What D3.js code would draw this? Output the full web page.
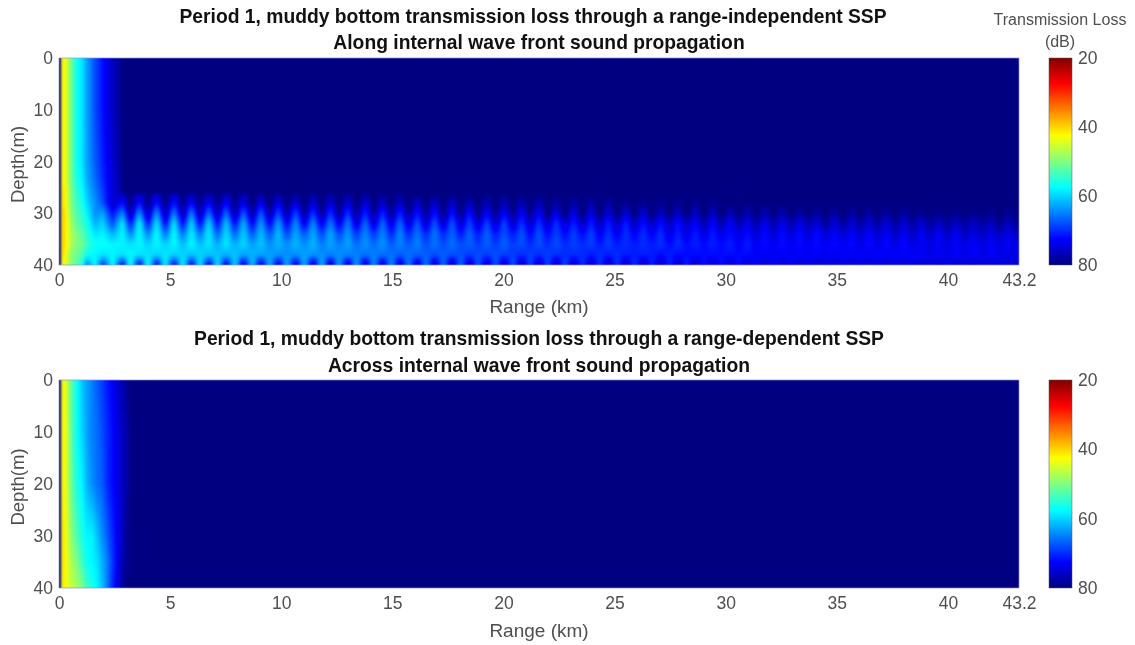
<!DOCTYPE html>
<html><head><meta charset="utf-8">
<script src="https://cdn.jsdelivr.net/npm/d3@7"></script>
<style>
html,body{margin:0;padding:0;background:#fff;overflow:hidden}
#root{position:relative;width:1135px;height:645px;filter:blur(0.35px)}
canvas{position:absolute;display:block}
svg{position:absolute;left:0;top:0}
text{font-family:"Liberation Sans",Arial,sans-serif}
</style></head><body><div id="root"></div>
<script>
// ---------- chart text ----------
const topTitles = ["Period 1, muddy bottom transmission loss through a range-independent SSP","Along internal wave front sound propagation"];
const bottomTitles = ["Period 1, muddy bottom transmission loss through a range-dependent SSP","Across internal wave front sound propagation"];
const xTickValues = [0,5,10,15,20,25,30,35,40,43.2];
const yTickValues = [0,10,20,30,40];
const cbTickValues = [20,40,60,80];
const BACKGROUND_LOSS = 80;

// ---------- top panel: near-source field (dB), rows = depths, columns = ranges ----------
const topNearRanges = [0,.08,.12,.16,.27,.41,.59,.81,1.04,1.26,1.62,1.98,2.41,2.83];
const topNearDepths = [0,10,20,24,26,28,30,32,34,36,38,40];
const topNearLoss = [
 [80,80,37,41,43,47,52,57,59,63,68,72,76,79],
 [80,80,36,41,43,47,52,57,59,63,68,72,76,79],
 [80,80,36,41,43,47,52,57,59,63,67,71,75,79],
 [80,80,36,41,43,47,52,56,58,62,66,70,75,78],
 [80,80,36,40,42,46,51,55,57,61,65,69,75,77],
 [80,80,36,40,42,46,51,54,56,60,64,68,76,72],
 [80,80,35,39,41,45,50,53,55,58,64,63,72,65],
 [80,80,35,39,41,44,49,52,54,56,62,60,68,59],
 [80,80,35,39,41,44,48,50,52,55,59,58,62,58],
 [80,80,35,39,41,44,48,50,51,54,57,57,58,58],
 [80,80,36,40,42,46,50,51,53,57,58,59,58,59],
 [80,80,37,41,44,47,50,52,56,65,57,70,57,72]
];

// ---------- top panel: bottom-trapped ripple band, one row per half-cycle ----------
const rippleStart = 2.83, rippleStep = 0.391;
const rippleDepths = [26,28,30,32,34,36,38,40];
const rippleLoss = [
 [80,79,76,70,64,59,58,58],[77,72,65,59,58,58,59,72],[80,79,76,70,64,60,59,58],[77,72,65,60,58,58,60,72],
 [80,79,76,71,65,60,59,59],[77,72,66,60,58,58,60,72],[80,79,76,71,65,61,60,59],[78,73,66,61,59,58,61,72],
 [80,79,76,71,65,61,60,60],[78,73,67,61,59,59,61,73],[80,79,76,71,66,62,61,60],[78,73,67,62,60,59,62,73],
 [80,79,77,71,66,62,61,61],[78,74,68,63,61,60,63,74],[80,80,77,72,67,63,62,62],[79,74,68,64,62,61,63,74],
 [80,80,77,72,67,64,63,63],[79,74,69,64,62,62,64,74],[80,80,77,72,68,64,64,63],[79,75,69,65,63,62,64,74],
 [80,80,78,73,67,64,63,63],[79,75,70,65,63,62,64,75],[80,80,78,73,68,65,64,63],[79,75,70,66,63,63,65,75],
 [80,80,78,73,68,65,64,64],[79,75,70,66,64,63,65,75],[80,80,78,74,69,66,65,64],[79,75,71,67,65,64,66,75],
 [80,80,78,74,69,66,65,65],[79,76,71,67,65,64,66,75],[80,80,78,74,70,67,66,65],[79,76,71,67,65,65,67,75],
 [80,80,78,74,70,67,66,66],[80,76,72,68,66,65,67,75],[80,80,78,75,70,68,67,66],[80,76,72,68,66,66,68,75],
 [80,80,79,75,70,68,67,67],[80,76,72,68,67,66,68,76],[80,80,79,75,71,68,68,67],[80,77,72,69,67,67,69,76],
 [80,80,79,75,71,69,68,68],[80,77,73,69,67,67,69,76],[80,80,79,75,71,69,68,68],[80,77,73,69,68,67,69,76],
 [80,80,79,75,71,69,69,68],[80,77,73,70,68,68,70,76],[80,80,79,75,72,70,69,69],[80,77,73,70,68,68,70,76],
 [80,80,80,75,72,70,69,69],[80,78,74,70,69,68,70,76],[80,80,80,75,72,70,70,69],[80,78,74,71,69,69,70,76],
 [80,80,80,76,72,70,70,70],[80,78,74,71,69,69,71,76],[80,80,80,76,73,71,70,70],[80,78,75,71,70,69,71,76],
 [80,80,80,76,73,71,70,70],[80,79,75,71,70,70,71,76],[80,80,80,76,73,71,71,70],[80,79,75,72,70,70,71,76],
 [80,80,80,76,73,71,71,71],[80,79,76,72,70,70,72,76],[80,80,80,76,74,72,71,71],[80,79,76,72,71,70,72,76],
 [80,80,80,76,74,72,72,71],[80,79,76,73,71,71,72,76],[80,80,80,77,74,72,72,72],[80,79,76,73,71,71,72,75],
 [80,80,80,77,74,72,72,72],[80,80,77,73,72,71,72,75],[80,80,80,77,74,73,72,72],[80,80,77,74,72,71,72,75],
 [80,80,80,77,75,73,73,73],[80,80,77,74,72,72,73,75],[80,80,80,77,75,73,73,73],[80,80,77,74,72,72,73,75],
 [80,80,80,77,75,73,73,73],[80,80,78,74,72,72,73,75],[80,80,80,77,75,73,73,74],[80,80,78,75,72,72,73,75],
 [80,80,80,78,75,73,73,74],[80,80,78,75,73,72,73,75],[80,80,80,78,75,73,73,74],[80,80,78,75,73,72,73,75],
 [80,80,80,78,75,74,73,74],[80,80,78,75,73,72,73,75],[80,80,80,78,75,74,73,74],[80,80,78,75,73,72,73,75],
 [80,80,80,78,76,74,73,74],[80,80,78,75,73,72,73,75],[80,80,80,78,76,74,73,74],[80,80,79,75,73,73,73,75],
 [80,80,80,78,76,74,74,74],[80,80,79,76,73,73,73,75],[80,80,80,78,76,74,74,74],[80,80,79,76,73,73,73,75],
 [80,80,80,78,76,74,74,74],[80,80,79,76,74,73,73,75],[80,80,80,78,76,74,74,74],[80,80,79,76,74,73,73,75],
 [80,80,80,79,76,74,74,74],[80,80,79,76,74,73,74,75],[80,80,80,79,76,74,74,74],[80,80,79,76,74,73,74,75]
];

// ---------- bottom panel (dB) ----------
const botRanges = [0,.08,.12,.16,.27,.41,.59,.81,1.04,1.26,1.49,1.71,1.94,2.16,2.39,2.61,2.84,3.06,3.29];
const botDepths = [0,10,20,30,35,40];
const botLoss = [
 [80,80,38,41,43,48,53,57,61,63,65,67,69,71,73,75,77,79,80],
 [80,80,37,41,43,47,53,57,60,63,65,66,68,70,72,74,76,78,80],
 [80,80,37,41,43,47,52,56,58,62,64,66,67,70,72,74,76,78,80],
 [80,80,37,40,42,46,50,53,56,58,58,61,64,67,70,73,76,79,80],
 [80,80,37,40,42,45,48,50,54,57,58,59,62,65,69,73,77,79,80],
 [80,80,38,41,42,45,46,48,50,54,56,58,61,65,70,74,78,80,80]
];

// ---------- layout ----------
const W = 1135, H = 645;
const plotX = [59,1019];
const panels = [
 {y:[58,265], titles:topTitles, titleY:[23,48.5], titleX:[533,539], rangeY:313},
 {y:[380,588], titles:bottomTitles, titleY:[344.5,371.5], titleX:[539,539], rangeY:637}
];
const cbX = [1049,1072];

// ---------- jet colour scale ----------
const jetDomain = [80,72.5,57.5,42.5,27.5,20];
const jetColors = ["#000080","#0000ff","#00ffff","#ffff00","#ff0000","#800000"];
const jet = d3.scaleLinear().domain(jetDomain).range(jetColors).clamp(true);

// ---------- fields ----------
const smooth = t => t*t*(3-2*t);
const bilinear = (xs, ys, M, xv, yv, easeX) => {
  const i = Math.min(xs.length-2, Math.max(0, d3.bisectRight(xs,xv)-1));
  const j = Math.min(ys.length-2, Math.max(0, d3.bisectRight(ys,yv)-1));
  let tx = Math.max(0, Math.min(1,(xv-xs[i])/(xs[i+1]-xs[i])));
  if (easeX) tx = smooth(tx);
  const ty = Math.max(0, Math.min(1,(yv-ys[j])/(ys[j+1]-ys[j])));
  const a = M[j][i]*(1-tx)+M[j][i+1]*tx, b = M[j+1][i]*(1-tx)+M[j+1][i+1]*tx;
  return a*(1-ty)+b*ty;
};
const rippleRanges = [rippleStart].concat(rippleLoss.map((_,n)=>rippleStart+(n+1)*rippleStep));
const rippleFirstColumn = rippleDepths.map(d=>topNearLoss[topNearDepths.indexOf(d)][topNearRanges.length-1]);
const rippleGrid = rippleDepths.map((_,j)=>[rippleFirstColumn[j]].concat(rippleLoss.map(r=>r[j])));

const topField = (r,d) => {
  if (r <= rippleStart) return bilinear(topNearRanges, topNearDepths, topNearLoss, r, d, false);
  if (d < rippleDepths[0]) return BACKGROUND_LOSS;
  return bilinear(rippleRanges, rippleDepths, rippleGrid, r, d, true);
};
const botField = (r,d) => r>=botRanges[botRanges.length-1] ? BACKGROUND_LOSS : bilinear(botRanges, botDepths, botLoss, r, d, false);
panels[0].field = topField;
panels[1].field = botField;

// ---------- draw ----------
const root = d3.select("#root");
panels.forEach(p=>{
  const x = d3.scaleLinear().domain([0,43.2]).range(plotX);
  const y = d3.scaleLinear().domain([0,40]).range(p.y);
  const w = plotX[1]-plotX[0], h = p.y[1]-p.y[0];
  const cv = root.append("canvas").attr("width",w).attr("height",h)
    .style("left",plotX[0]+"px").style("top",p.y[0]+"px");
  const ctx = cv.node().getContext("2d");
  const img = ctx.createImageData(w,h);
  for(let py=0;py<h;py++){
    const d = y.invert(p.y[0]+py+.5);
    for(let px=0;px<w;px++){
      const r = x.invert(plotX[0]+px+.5);
      const c = d3.rgb(jet(p.field(r,d)));
      const k=(py*w+px)*4;
      img.data[k]=c.r;img.data[k+1]=c.g;img.data[k+2]=c.b;img.data[k+3]=255;
    }
  }
  ctx.putImageData(img,0,0);
  ctx.filter = "blur(0.8px)";
  ctx.drawImage(cv.node(),0,0);
  ctx.filter = "none";
  p.x=x;p.yS=y;
});

const svg = root.append("svg").attr("width",W).attr("height",H);
const GREY = "#4f4f4f";
const FF = '"Liberation Sans",Arial,sans-serif';
const grad = svg.append("defs").append("linearGradient").attr("id","jetbar")
  .attr("x1",0).attr("y1",0).attr("x2",0).attr("y2",1);
grad.selectAll("stop").data(d3.range(20,80.01,0.5)).join("stop")
  .attr("offset",d=>(d-20)/60).attr("stop-color",d=>jet(d));

panels.forEach((p,pi)=>{
  const g = svg.append("g");
  g.append("rect").attr("x",plotX[0]).attr("y",p.y[0]).attr("width",plotX[1]-plotX[0]).attr("height",p.y[1]-p.y[0])
    .attr("fill","none").attr("stroke","#8f8fd8").attr("stroke-width",.7);
  const xA = d3.axisBottom(p.x).tickValues(xTickValues).tickFormat(d3.format("~g")).tickSize(0).tickPadding(9);
  const yA = d3.axisLeft(p.yS).tickValues(yTickValues).tickSize(0).tickPadding(6);
  const gx = g.append("g").attr("transform",`translate(0,${p.y[1]})`).call(xA);
  const gy = g.append("g").attr("transform",`translate(${plotX[0]},0)`).call(yA);
  [gx,gy].forEach(a=>{a.select(".domain").remove();a.selectAll("text").attr("font-size",17.5).attr("fill",GREY).style("font-family",FF);});
  g.append("text").attr("x",539).attr("y",p.rangeY).attr("text-anchor","middle").attr("font-size",19).attr("fill",GREY).text("Range (km)");
  const cy=(p.y[0]+p.y[1])/2;
  g.append("text").attr("transform",`translate(24,${cy+3}) rotate(-90)`).attr("text-anchor","middle").attr("font-size",18.5).attr("fill",GREY).text("Depth(m)");
  p.titles.forEach((t,i)=>g.append("text").attr("x",p.titleX[i]).attr("y",p.titleY[i]).attr("text-anchor","middle")
    .attr("font-size",19.3).attr("font-weight","bold").attr("fill","#111").text(t));
  // colour bar
  const cb = d3.scaleLinear().domain([20,80]).range(p.y);
  g.append("rect").attr("x",cbX[0]).attr("y",p.y[0]).attr("width",cbX[1]-cbX[0]).attr("height",p.y[1]-p.y[0])
    .attr("fill","url(#jetbar)").attr("stroke","#555").attr("stroke-width",.5);
  const cA = d3.axisRight(cb).tickValues(cbTickValues).tickSize(0).tickPadding(6);
  const gc = g.append("g").attr("transform",`translate(${cbX[1]},0)`).call(cA);
  gc.select(".domain").remove();
  gc.selectAll("text").attr("font-size",17.5).attr("fill",GREY).style("font-family",FF);
});
svg.append("text").attr("x",1060).attr("y",25).attr("text-anchor","middle").attr("font-size",16).attr("fill",GREY).text("Transmission Loss");
svg.append("text").attr("x",1060).attr("y",47).attr("text-anchor","middle").attr("font-size",16).attr("fill",GREY).text("(dB)");
</script></body></html>
